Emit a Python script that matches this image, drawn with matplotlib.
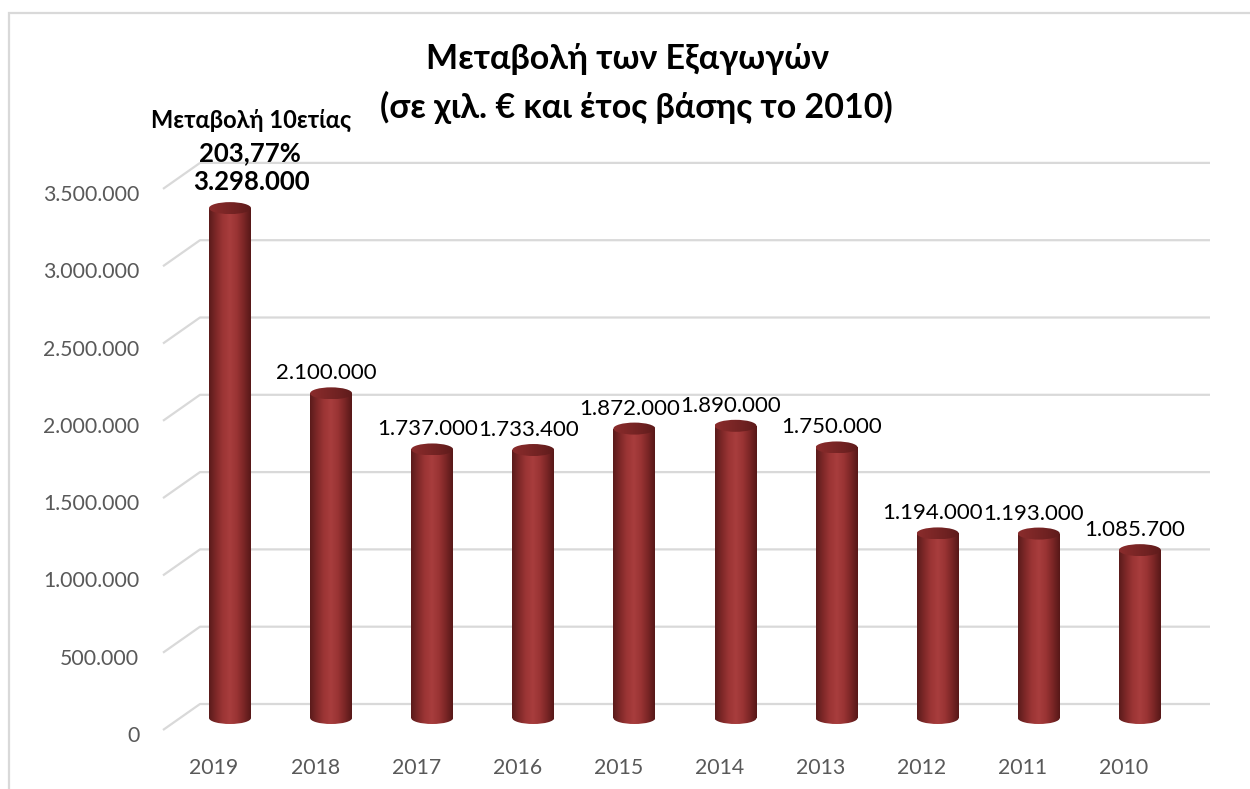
import numpy as np
import matplotlib
matplotlib.use('Agg')
import matplotlib.pyplot as plt
from matplotlib.patches import Ellipse, Rectangle
from matplotlib.colors import LinearSegmentedColormap

# ---------------- data ----------------
years = ['2019', '2018', '2017', '2016', '2015', '2014', '2013', '2012', '2011', '2010']
exports = [3298000, 2100000, 1737000, 1733400, 1872000, 1890000, 1750000, 1194000, 1193000, 1085700]
y_ticks = [0, 500000, 1000000, 1500000, 2000000, 2500000, 3000000, 3500000]
title_line1 = 'Μεταβολή των Εξαγωγών'
title_line2 = '(σε χιλ. € και έτος βάσης το 2010)'
note_title = 'Μεταβολή 10ετίας'
note_pct = '203,77%'


def fmt(v):
    return f'{v:,.0f}'.replace(',', '.')


# ---------------- figure ----------------
W, H, DPI = 1250, 789, 100
plt.rcParams['font.family'] = ['Lato', 'DejaVu Sans']
fig = plt.figure(figsize=(W / DPI, H / DPI), dpi=DPI)
fig.patch.set_facecolor('white')

# chart border (light grey, top and left visible)
fig.add_artist(Rectangle((8.5 / W, -0.05), 2.0, 1 - 12.5 / H + 0.05,
                         transform=fig.transFigure, fill=False,
                         ec='#d9d9d9', lw=1.6))

ax_pos = [163 / W, 1 - 740 / H, (1210 - 163) / W, (740 - 150) / H]
ax = fig.add_axes(ax_pos)
ax.set_facecolor('none')
XL = (-(230 - 163) / 101.1, (1210 - 230) / 101.1)
YL = (-(740 - 718) / 154.6e-6, (718 - 150) / 154.6e-6)
ax.set_xlim(*XL)
ax.set_ylim(*YL)
for s in ax.spines.values():
    s.set_visible(False)
ax.set_xticks([])
ax.set_yticks([])

# pixel scale of data units
p0 = ax.transData.transform((0, 0))
p1 = ax.transData.transform((1, 1e6))
ppx = p1[0] - p0[0]
ppy = (p1[1] - p0[1]) / 1e6

x = np.arange(len(years))

# ---------------- 3D-like gridlines ----------------
for v in y_ticks:
    yb = v + 14 / ppy      # back wall
    yf = v - 12 / ppy      # front edge
    xb = XL[0] + 37 / ppx
    ax.plot([XL[0], xb, XL[1]], [yf, yb, yb], color='#d9d9d9', lw=1.6,
            zorder=0, clip_on=False, solid_capstyle='butt')

# ---------------- cylinders ----------------
bw = 42 / ppx
eh = 12 / ppy
grad = np.linspace(0, 1, 256).reshape(1, -1)
cmap_body = LinearSegmentedColormap.from_list(
    'body', ['#5a1b1b', '#7e2828', '#9c3535', '#a83d3d', '#9a3434', '#7a2626', '#561818'])
cmap_top = LinearSegmentedColormap.from_list(
    'top', ['#8a2c2c', '#7e2727', '#702222', '#5e1b1b'])

bars = ax.bar(x, exports, width=bw, color='none', edgecolor='none', zorder=2)
for rect, xi, v in zip(bars, x, exports):
    im = ax.imshow(grad, cmap=cmap_body, aspect='auto', interpolation='bilinear',
                   extent=(xi - bw / 2, xi + bw / 2, -eh / 2, v), zorder=2)
    im.set_clip_path(rect)
    bot = Ellipse((xi, 0), bw, eh, facecolor='none', edgecolor='none', zorder=2)
    ax.add_patch(bot)
    im2 = ax.imshow(grad, cmap=cmap_body, aspect='auto', interpolation='bilinear',
                    extent=(xi - bw / 2, xi + bw / 2, -eh / 2, eh / 2), zorder=2)
    im2.set_clip_path(bot)
    top = Ellipse((xi, v), bw, eh, facecolor='none', edgecolor='none', zorder=3)
    ax.add_patch(top)
    im3 = ax.imshow(grad, cmap=cmap_top, aspect='auto', interpolation='bilinear',
                    extent=(xi - bw / 2, xi + bw / 2, v - eh / 2, v + eh / 2), zorder=3)
    im3.set_clip_path(top)

ax.set_xlim(*XL)
ax.set_ylim(*YL)

# ---------------- data labels ----------------
for i, (xi, v) in enumerate(zip(x, exports)):
    if i == 0:
        ax.annotate(fmt(v), (xi, v), xytext=(21, 26), textcoords='offset pixels',
                    ha='center', va='center', fontsize=18.5, fontweight='bold',
                    color='black', annotation_clip=False)
        ax.annotate(note_pct, (xi, v), xytext=(20, 55), textcoords='offset pixels',
                    ha='center', va='center', fontsize=18.5, fontweight='bold',
                    color='black', annotation_clip=False)
        ax.annotate(note_title, (xi, v), xytext=(21, 88), textcoords='offset pixels',
                    ha='center', va='center', fontsize=17, fontweight='bold',
                    color='black', annotation_clip=False)
    else:
        ax.annotate(fmt(v), (xi, v), xytext=(-5, 20), textcoords='offset pixels',
                    ha='center', va='center', fontsize=16, color='black',
                    annotation_clip=False)

# ---------------- axis labels (on a helper axes placed on the front plane) ----------------
ax_lab = fig.add_axes([ax_pos[0] - 16 / W, ax_pos[1] - 16 / H, ax_pos[2], ax_pos[3]], zorder=-1)
ax_lab.set_facecolor('none')
for s in ax_lab.spines.values():
    s.set_visible(False)
ax_lab.set_xlim(*XL)
ax_lab.set_ylim(*YL)
ax_lab.set_yticks(y_ticks, [fmt(v) for v in y_ticks])
ax_lab.set_xticks(x, years)
ax_lab.tick_params(axis='y', length=0, pad=5.5, labelsize=15.3, labelcolor='#595959')
ax_lab.tick_params(axis='x', length=0, pad=1.5, labelsize=15.3, labelcolor='#595959')

# ---------------- title ----------------
fig.text(628 / W, 1 - 59 / H, title_line1, ha='center', va='center',
         fontsize=24.5, fontweight='bold', color='black')
fig.text(636 / W, 1 - 107 / H, title_line2, ha='center', va='center',
         fontsize=24.5, fontweight='bold', color='black')

fig.savefig('out.png', dpi=DPI, facecolor='white')
